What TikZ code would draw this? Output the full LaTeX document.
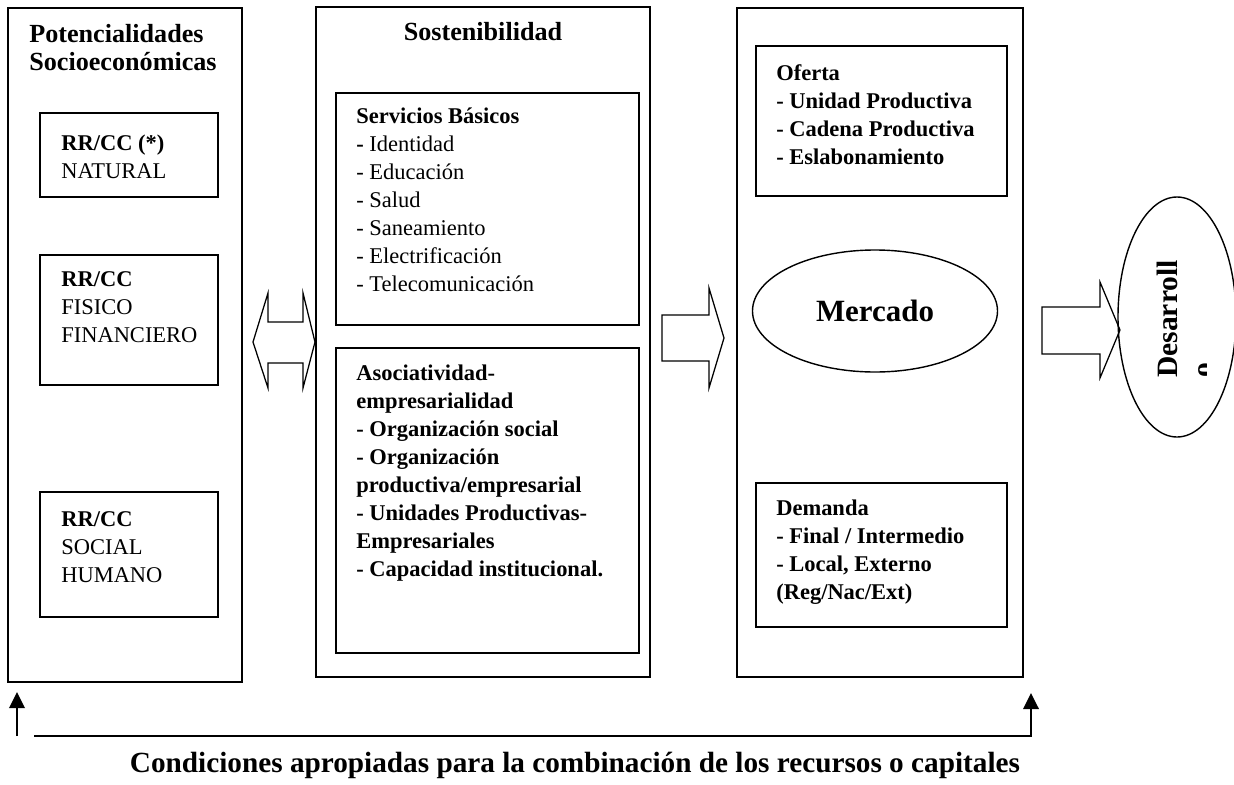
\documentclass[tikz,border=0pt]{standalone}
\usepackage{fontspec}
\setmainfont{Liberation Serif}
\usetikzlibrary{calc,shapes.geometric,arrows.meta}

\begin{document}
\begin{tikzpicture}[
		caja/.style={draw, line width=1pt},
		texto/.style={anchor=north west, align=left, inner sep=0pt, font=\fontsize{16}{19.9}\selectfont},
		titulo/.style={inner sep=0pt, font=\fontsize{18.6}{19.9}\selectfont\bfseries},
		bloque/.style={draw, line width=0.9pt, line join=miter},
		flecha/.style={line width=2pt, -{Triangle[length=4mm, width=3.8mm]}}
	]
		%%%%% START %%%%%
		\useasboundingbox (0, 0) rectangle (30.85, -19.625);
		
		% columna izquierda
		\draw[caja] (0.2, -0.2) rectangle (6.05, -17.05);
		\node[titulo, anchor=north west, align=left] (potencial) at (0.725, -0.6) {Potencialidades\\Socioeconómicas};
		
		\draw[caja] (1.0, -2.825) rectangle (5.45, -4.925);
		\node[texto] (natural) at (1.525, -3.36) {\textbf{RR/CC (*)}\\NATURAL};
		
		\draw[caja] (1.0, -6.375) rectangle (5.45, -9.625);
		\node[texto] (fisico) at (1.525, -6.79) {\textbf{RR/CC}\\FISICO\\FINANCIERO};
		
		\draw[caja] (1.0, -12.3) rectangle (5.45, -15.425);
		\node[texto] (social) at (1.525, -12.79) {\textbf{RR/CC}\\SOCIAL\\HUMANO};
		
		% columna del medio
		\draw[caja] (7.9, -0.175) rectangle (16.25, -16.925);
		\node[titulo, anchor=base] (sosten) at (12.075, -1.0) {Sostenibilidad};
		
		\draw[caja] (8.4, -2.325) rectangle (15.975, -8.125);
		\node[texto] (servicios) at (8.9, -2.69) {\textbf{Servicios Básicos}\\\textbf{-} Identidad\\- Educación\\- Salud\\- Saneamiento\\- Electrificación\\- Telecomunicación};
		
		\draw[caja] (8.4, -8.7) rectangle (15.975, -16.325);
		\node[texto, font=\fontsize{16}{19.9}\selectfont\bfseries] (asociat) at (8.9, -9.11) {Asociatividad-\\empresarialidad\\- Organización social\\- Organización\\productiva/empresarial\\- Unidades Productivas-\\Empresariales\\- Capacidad institucional.};
		
		% columna derecha
		\draw[caja] (18.425, -0.2) rectangle (25.575, -16.925);
		
		\draw[caja] (18.9, -1.15) rectangle (25.175, -4.9);
		\node[texto, font=\fontsize{16}{19.9}\selectfont\bfseries] (oferta) at (19.4, -1.61) {Oferta\\- Unidad Productiva\\- Cadena Productiva\\- Eslabonamiento};
		
		\node[draw, ellipse, line width=1pt, minimum width=6.125cm, minimum height=3.05cm, inner sep=0pt, font=\fontsize{22}{24}\selectfont\bfseries] (mercado) at (21.875, -7.775) {Mercado};
		
		\draw[caja] (18.9, -12.075) rectangle (25.175, -15.675);
		\node[texto, font=\fontsize{16}{19.9}\selectfont\bfseries] (demanda) at (19.4, -12.49) {Demanda\\- Final / Intermedio\\- Local, Externo\\(Reg/Nac/Ext)};
		
		% flechas de bloque
		\draw[bloque] (6.325, -8.55) -- (6.7, -7.325) -- (6.7, -8.05) -- (7.575, -8.05) -- (7.575, -7.325) -- (7.875, -8.55)
			-- (7.575, -9.7) -- (7.575, -9.075) -- (6.7, -9.075) -- (6.7, -9.7) -- cycle;
		\draw[bloque] (16.55, -7.875) -- (17.725, -7.875) -- (17.725, -7.2) -- (18.1, -8.45)
			-- (17.725, -9.7) -- (17.725, -9.025) -- (16.55, -9.025) -- cycle;
		\draw[bloque] (26.05, -7.675) -- (27.5, -7.675) -- (27.5, -7.05) -- (28.0, -8.25)
			-- (27.5, -9.45) -- (27.5, -8.85) -- (26.05, -8.85) -- cycle;
		
		% desarrollo
		\node[draw, ellipse, line width=1pt, minimum width=2.95cm, minimum height=6.0cm, inner sep=0pt] (desarrollo) at (29.425, -7.925) {};
		\begin{scope}
			\clip (28.0, -4.0) rectangle (30.15, -11.0);
			\node[rotate=90, anchor=north west, align=left, inner sep=0pt, font=\fontsize{21}{25}\selectfont\bfseries] (desarrollotxt) at (28.925, -9.45) {Desarroll\\o};
		\end{scope}
		
		% condiciones
		\coordinate (izqabajo) at (0.425, -18.4);
		\coordinate (izqarriba) at (0.425, -17.3);
		\coordinate (ini) at (0.85, -18.4);
		\coordinate (fin) at (25.775, -18.4);
		\coordinate (finarriba) at (25.775, -17.325);
		\draw[flecha] (izqabajo) -- (izqarriba);
		\draw[flecha] (ini) -- (fin) -- (finarriba);
		\node[anchor=base, inner sep=0pt, font=\fontsize{20.8}{24}\selectfont\bfseries] (condiciones) at (14.375, -19.3) {Condiciones apropiadas para la combinación de los recursos o capitales};
		
		%%%%% END %%%%%
\end{tikzpicture}
\end{document}
